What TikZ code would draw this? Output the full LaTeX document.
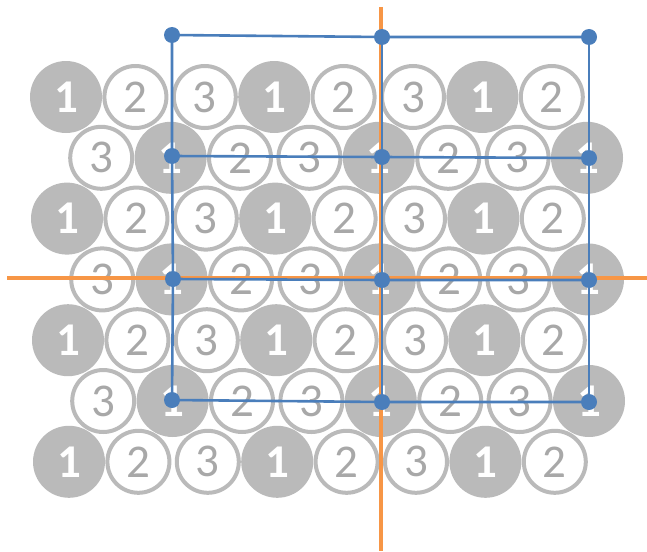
\documentclass[tikz,border=0pt]{standalone}
\usepackage{fontspec}
\setmainfont{Carlito}
\definecolor{ballgray}{RGB}{186,186,186}
\definecolor{digitgray}{RGB}{168,168,168}
\definecolor{cellblue}{RGB}{74,126,187}
\definecolor{axisorange}{RGB}{247,150,70}
\begin{document}
\begin{tikzpicture}[x=1pt,y=-1pt,
		ball1/.style={circle,inner sep=0pt,fill=ballgray,minimum size=72pt,text=white,font=\fontsize{47}{47}\selectfont\bfseries},
		ball2/.style={circle,inner sep=0pt,fill=white,draw=ballgray,line width=4pt,minimum size=62pt,text=digitgray,font=\fontsize{47}{47}\selectfont},
		ball3/.style={ball2},
		axis/.style={axisorange,line width=4pt},
		cell/.style={cellblue,line width=2.6pt}]
	\useasboundingbox (0,0) rectangle (647,551);
	\foreach \r in {0,...,6} {
		\foreach \k in {0,...,7} {
			\pgfmathsetmacro{\x}{66+0.5*\r+34.7*mod(\r,2)+69.4*\k}
			\pgfmathsetmacro{\y}{97+60.8*\r}
			\pgfmathtruncatemacro{\n}{mod(\k+2*mod(\r,2),3)+1}
			\node[ball\n] (b-\r-\k) at (\x,\y) {\n};
		}
	}
	\coordinate (v0) at (381,7);
	\coordinate (v1) at (381,551);
	\coordinate (h0) at (7,278);
	\coordinate (h1) at (647,278);
	\draw[axis] (v0) -- (v1);
	\draw[axis] (h0) -- (h1);
	\coordinate (p-0-0) at (172,35);
	\coordinate (p-0-1) at (382,37);
	\coordinate (p-0-2) at (589,37);
	\coordinate (p-1-0) at (172,156);
	\coordinate (p-1-1) at (382,157);
	\coordinate (p-1-2) at (589,158);
	\coordinate (p-2-0) at (173,279);
	\coordinate (p-2-1) at (382,280);
	\coordinate (p-2-2) at (589,280);
	\coordinate (p-3-0) at (172,400);
	\coordinate (p-3-1) at (382,402);
	\coordinate (p-3-2) at (589,402);
	\foreach \i in {0,...,3} {
		\draw[cell] (p-\i-0) -- (p-\i-1) -- (p-\i-2);
	}
	\foreach \j in {0,1,2} {
		\draw[cell] (p-0-\j) -- (p-1-\j) -- (p-2-\j) -- (p-3-\j);
	}
	\foreach \i in {0,...,3} {
		\foreach \j in {0,1,2} {
			\fill[cellblue] (p-\i-\j) circle (8pt);
		}
	}
\end{tikzpicture}
\end{document}
